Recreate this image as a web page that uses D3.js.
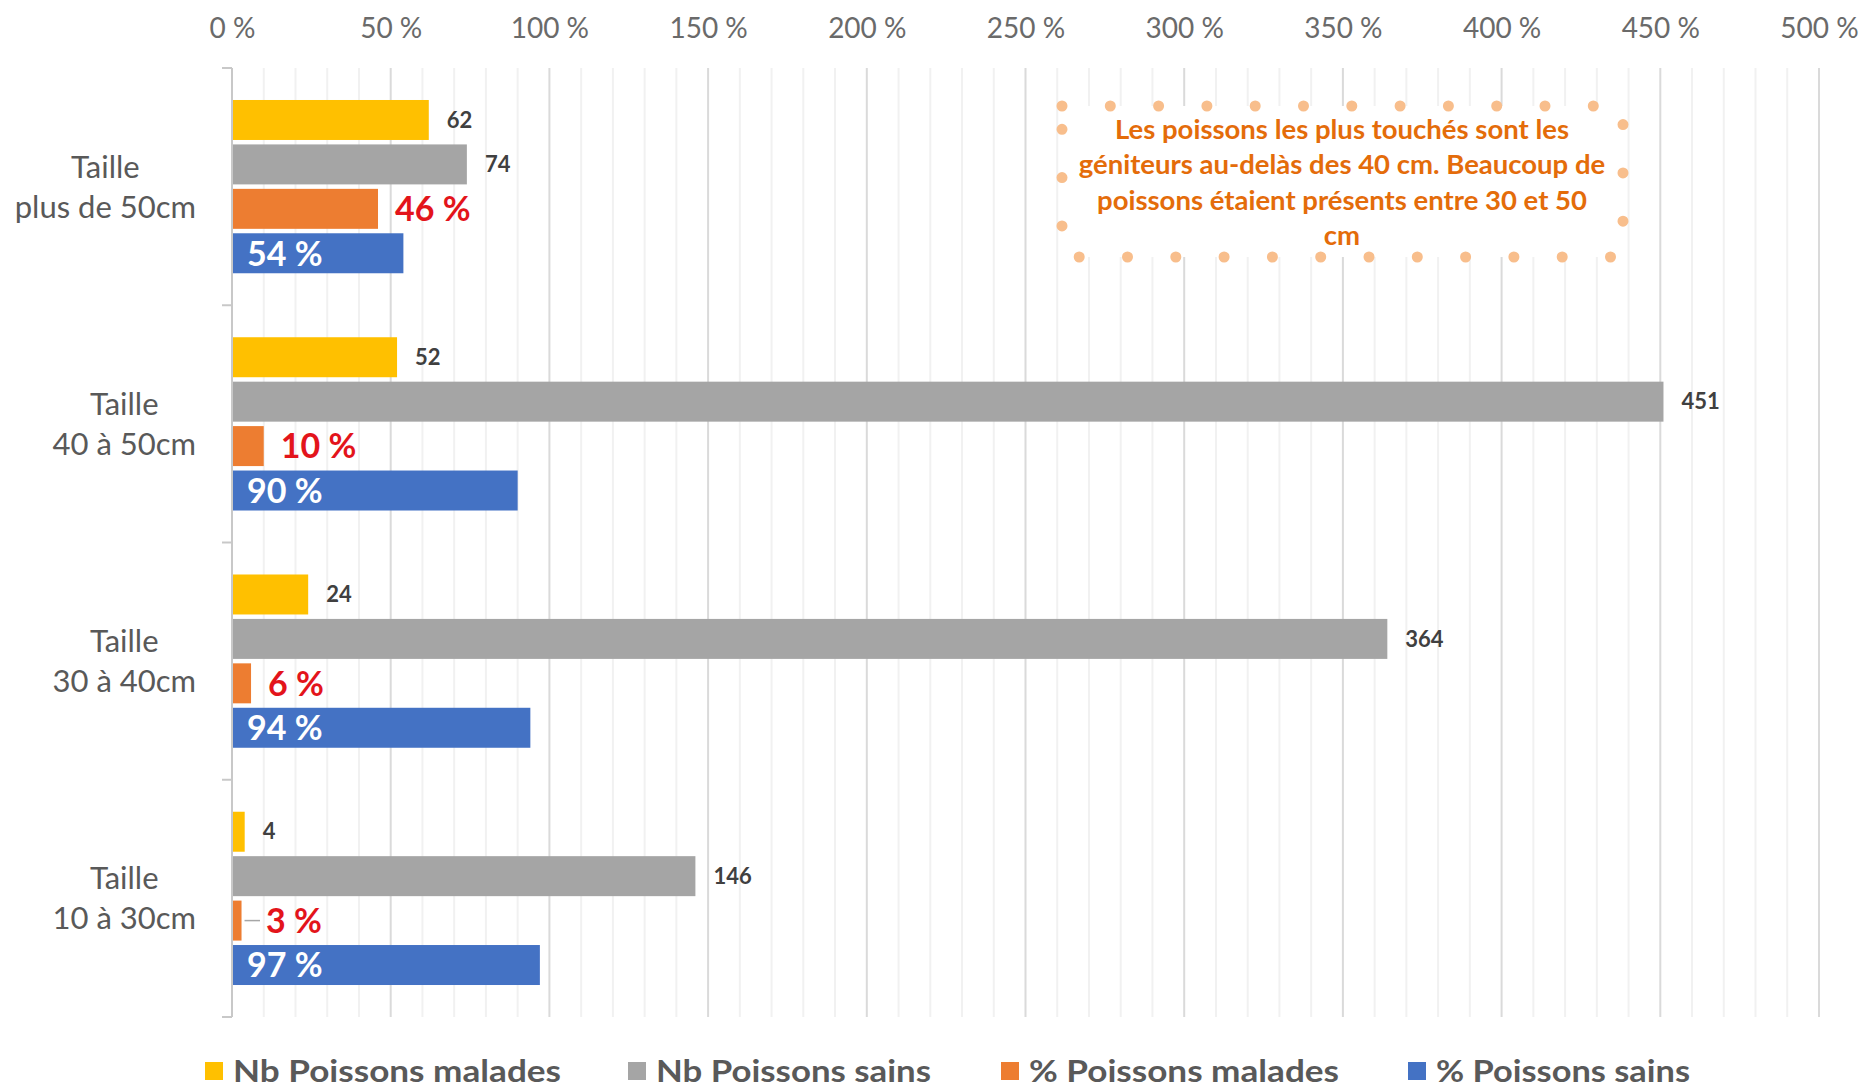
<!DOCTYPE html>
<html>
<head>
<meta charset="utf-8">
<script src="https://cdnjs.cloudflare.com/ajax/libs/d3/7.8.5/d3.min.js"></script>
<style>
  body { margin: 0; background: #fff; }
  svg { display: block; font-family: Lato, "Open Sans", sans-serif; }
</style>
</head>
<body>
<div id="chart"></div>
<script>
// data (top to bottom, as drawn)
var categories = ["plus de 50cm", "40 à 50cm", "30 à 40cm", "10 à 30cm"];
var seriesNames = ["Nb Poissons malades", "Nb Poissons sains", "% Poissons malades", "% Poissons sains"];
var nbMalades = [62, 52, 24, 4];
var nbSains = [74, 451, 364, 146];
var pctMalades = [46, 10, 6, 3];
var pctSains = [54, 90, 94, 97];
var xTicks = [0, 50, 100, 150, 200, 250, 300, 350, 400, 450, 500];
var noteLines = [
    "Les poissons les plus touchés sont les",
    "géniteurs au-delàs des 40 cm. Beaucoup de",
    "poissons étaient présents entre 30 et 50",
    "cm"
];

var colors = ["#FFC000", "#A5A5A5", "#ED7D31", "#4472C4"];

var svgWidth = 1864;
var svgHeight = 1091;

var svg = d3.select("#chart")
    .append("svg")
    .attr("width", svgWidth)
    .attr("height", svgHeight);

// scales
var x = d3.scaleLinear()
    .domain([0, 500])
    .range([232, 1819]);

var y0 = d3.scaleBand()
    .domain(categories)
    .range([68, 1017])
    .paddingInner(0)
    .paddingOuter(0);

var y1 = d3.scaleBand()
    .domain(d3.range(4))
    .range([0, y0.bandwidth()])
    .paddingInner(0.1)
    .paddingOuter(0.72);

// gridlines: minor every 10, major every 50
var grid = svg.append("g");
grid.selectAll("line.minor")
    .data(d3.range(10, 501, 10).filter(d => d % 50 !== 0))
    .enter()
    .append("line")
    .attr("x1", d => x(d))
    .attr("x2", d => x(d))
    .attr("y1", 68)
    .attr("y2", 1017)
    .attr("stroke", "#f1f1f1")
    .attr("stroke-width", 2);

grid.selectAll("line.major")
    .data(xTicks.slice(1))
    .enter()
    .append("line")
    .attr("x1", d => x(d))
    .attr("x2", d => x(d))
    .attr("y1", 68)
    .attr("y2", 1017)
    .attr("stroke", "#dadada")
    .attr("stroke-width", 2);

// top axis labels
var topAxis = d3.axisTop(x)
    .tickValues(xTicks)
    .tickFormat(d => d + " %")
    .tickSize(0)
    .tickPadding(0);

var xAxis = svg.append("g")
    .attr("transform", "translate(0, 38)")
    .call(topAxis);
xAxis.select(".domain").remove();
xAxis.selectAll("text")
    .attr("font-family", "Lato, sans-serif")
    .attr("font-size", 28)
    .attr("fill", "#6a6a6a");

// left category axis
var leftAxis = svg.append("g");
leftAxis.append("line")
    .attr("x1", x(0)).attr("x2", x(0))
    .attr("y1", 68).attr("y2", 1017)
    .attr("stroke", "#c8c8c8")
    .attr("stroke-width", 2);
leftAxis.selectAll("line.tick")
    .data(categories.map(c => y0(c)).concat([y0.range()[1]]))
    .enter()
    .append("line")
    .attr("x1", x(0) - 10).attr("x2", x(0))
    .attr("y1", d => d).attr("y2", d => d)
    .attr("stroke", "#c8c8c8")
    .attr("stroke-width", 2);

// category labels: two centred lines, block right edge near the axis
var catLabels = leftAxis.selectAll("text.cat")
    .data(categories)
    .enter()
    .append("text")
    .attr("text-anchor", "middle")
    .attr("font-size", 31)
    .attr("fill", "#595959");
catLabels.append("tspan")
    .attr("y", d => y0(d) + y0.bandwidth() / 2 - 9)
    .text("Taille");
catLabels.append("tspan")
    .attr("y", d => y0(d) + y0.bandwidth() / 2 + 31)
    .text(d => d);
catLabels.each(function() {
    var t = d3.select(this);
    var w = 0;
    t.selectAll("tspan").each(function() { w = Math.max(w, this.getComputedTextLength()); });
    t.selectAll("tspan").attr("x", 196 - w / 2);
});

// bars
var rows = categories.map(function(c, i) {
    return {cat: c, vals: [nbMalades[i], nbSains[i], pctMalades[i], pctSains[i]]};
});

var groups = svg.selectAll("g.cat")
    .data(rows)
    .enter()
    .append("g")
    .attr("transform", d => `translate(0, ${y0(d.cat)})`);

groups.selectAll("rect")
    .data(d => d.vals.map((v, k) => ({k: k, v: v})))
    .enter()
    .append("rect")
    .attr("x", x(0) + 1)
    .attr("y", d => y1(d.k))
    .attr("width", d => x(d.v) - x(0) - 1)
    .attr("height", y1.bandwidth())
    .attr("fill", d => colors[d.k]);

// counts labels
groups.selectAll("text.count")
    .data(d => d.vals.slice(0, 2).map((v, k) => ({k: k, v: v})))
    .enter()
    .append("text")
    .attr("x", d => x(d.v) + 18)
    .attr("y", d => y1(d.k) + y1.bandwidth() / 2)
    .attr("dy", "0.35em")
    .attr("font-size", 22)
    .attr("font-weight", "bold")
    .attr("fill", "#404040")
    .text(d => d.v);

// % malades labels (red), with leader line when pushed out
groups.each(function(d) {
    var g = d3.select(this);
    var end = x(d.vals[2]);
    var lx = Math.max(end + 17, x(0) + 34);
    var cy = y1(2) + y1.bandwidth() / 2;
    if (lx > end + 17) {
        g.append("line")
            .attr("x1", end + 3).attr("x2", lx - 6)
            .attr("y1", cy).attr("y2", cy)
            .attr("stroke", "#a6a6a6")
            .attr("stroke-width", 1.5);
    }
    g.append("text")
        .attr("x", lx)
        .attr("y", cy)
        .attr("dy", "0.36em")
        .attr("font-size", 34)
        .attr("font-weight", "bold")
        .attr("fill", "#E3141B")
        .text(d.vals[2] + " %");

    g.append("text")
        .attr("x", x(0) + 15)
        .attr("y", y1(3) + y1.bandwidth() / 2)
        .attr("dy", "0.36em")
        .attr("font-size", 34)
        .attr("font-weight", "bold")
        .attr("fill", "#ffffff")
        .text(d.vals[3] + " %");
});

// annotation box
var note = svg.append("g");
note.append("rect")
    .attr("x", 1062).attr("y", 106)
    .attr("width", 561).attr("height", 151)
    .attr("fill", "#ffffff")
    .attr("stroke", "#F8BE8C")
    .attr("stroke-width", 11)
    .attr("stroke-linecap", "round")
    .attr("stroke-dasharray", "0 48.3");

note.selectAll("text")
    .data(noteLines)
    .enter()
    .append("text")
    .attr("x", 1342)
    .attr("y", (d, i) => 139 + i * 35.3)
    .attr("text-anchor", "middle")
    .attr("font-size", 27.5)
    .attr("font-weight", "bold")
    .attr("fill", "#E46C0A")
    .text(d => d);

// legend
var legendX = [205, 628, 1001, 1408];
var legendW = [328, 275, 310, 254];
var legend = svg.selectAll("g.legend")
    .data(seriesNames)
    .enter()
    .append("g")
    .attr("transform", (d, i) => `translate(${legendX[i]}, 1071)`);

legend.append("rect")
    .attr("x", 0).attr("y", -9)
    .attr("width", 18).attr("height", 18)
    .attr("fill", (d, i) => colors[i]);

legend.append("text")
    .attr("x", 28)
    .attr("y", 0)
    .attr("dy", "0.36em")
    .attr("font-size", 30)
    .attr("font-weight", "bold")
    .attr("fill", "#595959")
    .attr("textLength", (d, i) => legendW[i])
    .attr("lengthAdjust", "spacingAndGlyphs")
    .text(d => d);
</script>
</body>
</html>
